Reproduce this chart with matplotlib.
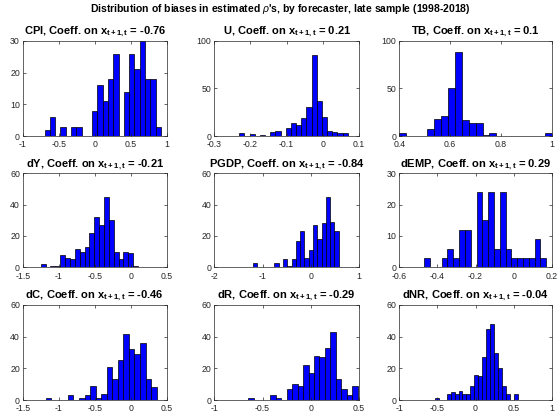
import numpy as np
import matplotlib
matplotlib.use("Agg")
import matplotlib.pyplot as plt
from matplotlib.ticker import FuncFormatter

plt.rcParams['font.family'] = ['Liberation Sans', 'DejaVu Sans']
plt.rcParams['mathtext.fontset'] = 'custom'
plt.rcParams['mathtext.rm'] = 'Liberation Sans:bold'
plt.rcParams['mathtext.bf'] = 'Liberation Sans:bold'
plt.rcParams['mathtext.it'] = 'Liberation Sans:italic'
plt.rcParams['mathtext.default'] = 'rm'

# ============================
# Data (histogram counts)
# ============================
names = ["CPI", "U", "TB", "dY", "PGDP", "dEMP", "dC", "dR", "dNR"]
coeffs = ["-0.76", "0.21", "0.1", "-0.21", "-0.84", "0.29", "-0.46", "-0.29", "-0.04"]

bin_start = [-0.696, -0.231, 0.40, -1.25, -1.198, -0.469, -1.181, -0.647, -0.532]
bin_width = [0.0734, 0.01427, 0.0273, 0.0676, 0.0888, 0.0305, 0.0771, 0.0567, 0.0516]

cpi = [2, 6, 0, 3, 0, 3, 3, 0, 0, 8, 16, 11, 18, 26, 0, 14, 26, 21, 30, 18, 18, 3]
u = [3, 0, 2, 0, 1, 0, 4, 5, 0, 8, 14, 12, 19, 30, 85, 37, 20, 5, 4, 3, 3]
tb = [3, 0, 0, 0, 7, 18, 21, 50, 88, 17, 14, 14, 1, 3, 0, 0, 0, 0, 0, 0, 0, 3]
dy = [2, 0, 1, 1, 8, 6, 5, 12, 10, 13, 22, 32, 27, 45, 30, 10, 5, 10, 9, 1]
pgdp = [3, 0, 0, 0, 0, 3, 0, 5, 1, 5, 17, 23, 6, 11, 27, 18, 28, 45, 29, 23]
demp = [3, 0, 0, 3, 6, 3, 12, 12, 0, 24, 15, 24, 6, 24, 6, 3, 3, 3, 3, 9, 3]
dc = [1, 0, 0, 0, 3, 0, 1, 3, 9, 1, 4, 21, 13, 25, 42, 32, 29, 36, 13, 8]
dr = [1, 0, 0, 0, 3, 1, 0, 7, 10, 9, 22, 17, 28, 27, 33, 43, 13, 7, 3, 9]
dnr = [1, 0, 0, 4, 5, 4, 6, 4, 4, 9, 16, 15, 27, 45, 48, 30, 20, 9, 4, 0, 4]
counts = [cpi, u, tb, dy, pgdp, demp, dc, dr, dnr]

xlims = [(-1, 1), (-0.3, 0.1), (0.4, 1), (-1.5, 0.5), (-2, 1), (-0.6, 0.2),
         (-1.5, 0.5), (-1, 0.5), (-1, 1)]
xticks = [[-1, -0.5, 0, 0.5, 1], [-0.3, -0.2, -0.1, 0, 0.1], [0.4, 0.6, 0.8, 1],
          [-1.5, -1, -0.5, 0, 0.5], [-2, -1, 0, 1], [-0.6, -0.4, -0.2, 0, 0.2],
          [-1.5, -1, -0.5, 0, 0.5], [-1, -0.5, 0, 0.5], [-1, -0.5, 0, 0.5, 1]]
ytops = [30, 100, 100, 60, 60, 30, 60, 60, 60]
yticks = [[0, 10, 20, 30], [0, 50, 100], [0, 50, 100], [0, 20, 40, 60],
          [0, 20, 40, 60], [0, 10, 20, 30], [0, 20, 40, 60], [0, 20, 40, 60],
          [0, 20, 40, 60]]

# ============================
# Layout (pixel boxes of the 560x413 figure)
# ============================
W, H = 560, 413
col_left = [22.7, 214.3, 399.3]
col_w = [144.0, 144.7, 152.4]
row_top = [41.0, 173.3, 305.0]
row_h = [95.0, 94.0, 95.0]

fmt = FuncFormatter(lambda v, p: "%g" % (0 if abs(v) < 1e-12 else v))

fig = plt.figure(figsize=(5.6, 4.13), dpi=100)
fig.patch.set_facecolor("white")

for k in range(9):
    r, c = divmod(k, 3)
    ax = fig.add_axes([col_left[c] / W, 1 - (row_top[r] + row_h[r]) / H,
                       col_w[c] / W, row_h[r] / H])
    n = len(counts[k])
    edges = bin_start[k] + bin_width[k] * np.arange(n)
    ax.bar(edges, counts[k], width=bin_width[k], align="edge",
           color=(0, 0, 1), edgecolor="black", linewidth=0.5)
    ax.set_xlim(*xlims[k])
    ax.set_ylim(0, ytops[k])
    ax.set_xticks(xticks[k])
    ax.set_yticks(yticks[k])
    ax.xaxis.set_major_formatter(fmt)
    ax.yaxis.set_major_formatter(fmt)
    ax.tick_params(direction="in", length=2, width=0.5, labelsize=6.3,
                   top=True, right=True, colors="#262626")
    ax.tick_params(axis="x", pad=3.2)
    ax.tick_params(axis="y", pad=2)
    for s in ax.spines.values():
        s.set_linewidth(0.5)
        s.set_color("#262626")
    ax.set_title(names[k] + ", Coeff. on x$_{t+1,t}$ = " + coeffs[k],
                 fontsize=8, fontweight="bold", pad=4.8)

fig.text(0.5, 1 - 12 / H,
         r"Distribution of biases in estimated $\mathit{\rho}$'s, by forecaster, late sample (1998-2018)",
         ha="center", va="baseline", fontsize=7.5, fontweight="bold")

plt.savefig("out.png", dpi=100, facecolor="white")
